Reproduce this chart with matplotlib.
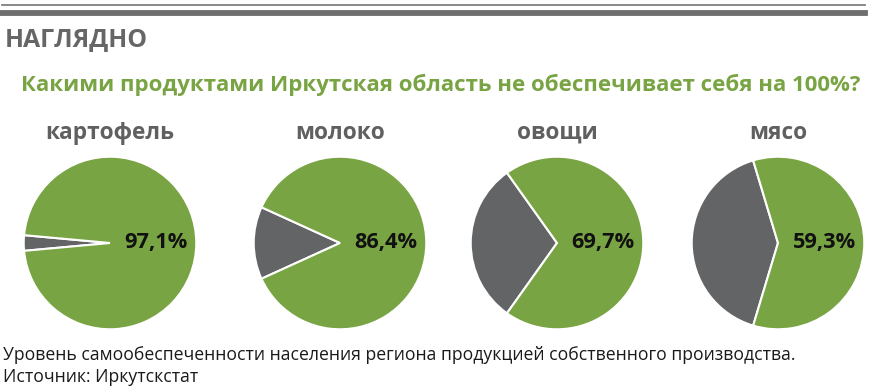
import matplotlib
matplotlib.use("Agg")
import matplotlib.pyplot as plt
from matplotlib.lines import Line2D

plt.rcParams['font.family'] = ['Open Sans', 'DejaVu Sans']

header = "НАГЛЯДНО"
title = "Какими продуктами Иркутская область не обеспечивает себя на 100%?"
products = ["картофель", "молоко", "овощи", "мясо"]
shares = [97.1, 86.4, 69.7, 59.3]
labels = ["97,1%", "86,4%", "69,7%", "59,3%"]
note = "Уровень самообеспеченности населения региона продукцией собственного производства."
source = "Источник: Иркутскстат"

GREEN = "#79a443"
GRAY = "#636466"
W, H = 890, 390

fig = plt.figure(figsize=(W / 100, H / 100), dpi=100)

# header rules
fig.add_artist(Line2D([2 / W, 865 / W], [1 - 5 / H, 1 - 5 / H], color="#808080", lw=1.3))
fig.add_artist(Line2D([2 / W, 865 / W], [1 - 13 / H, 1 - 13 / H], color="#6e6e6e", lw=4.2))

fig.text(5 / W, 1 - 40 / H, header, fontsize=17.9, fontweight="bold", color="#666666", va="center", ha="left")
fig.text(441 / W, 1 - 85 / H, title, fontsize=16, fontweight="bold", color=GREEN, va="center", ha="center")

centers = [110, 340, 557, 778]
r = 88
for cx, name, val, lab in zip(centers, products, shares, labels):
    fig.text(cx / W, 1 - 133 / H, name, fontsize=16.3, fontweight="bold", color="#606060", va="center", ha="center")
    ax = fig.add_axes([(cx - r) / W, 1 - (243 + r) / H, 2 * r / W, 2 * r / H])
    rest = 100 - val
    ax.pie([rest, val], colors=[GRAY, GREEN], startangle=180 - rest * 1.8, counterclock=True,
           wedgeprops=dict(edgecolor="white", linewidth=1.5))
    ax.set_xlim(-1.02, 1.02)
    ax.set_ylim(-1.02, 1.02)
    ax.set_aspect("equal")
    ax.text(0.17, 0.0, lab, fontsize=15.7, fontweight="bold", color="#111111", va="center", ha="left")

fig.text(3 / W, 1 - 355 / H, note, fontsize=12.7, color="#1a1a1a", va="center", ha="left")
fig.text(3 / W, 1 - 377 / H, source, fontsize=12.7, color="#1a1a1a", va="center", ha="left")

fig.savefig("out.png", dpi=100)
